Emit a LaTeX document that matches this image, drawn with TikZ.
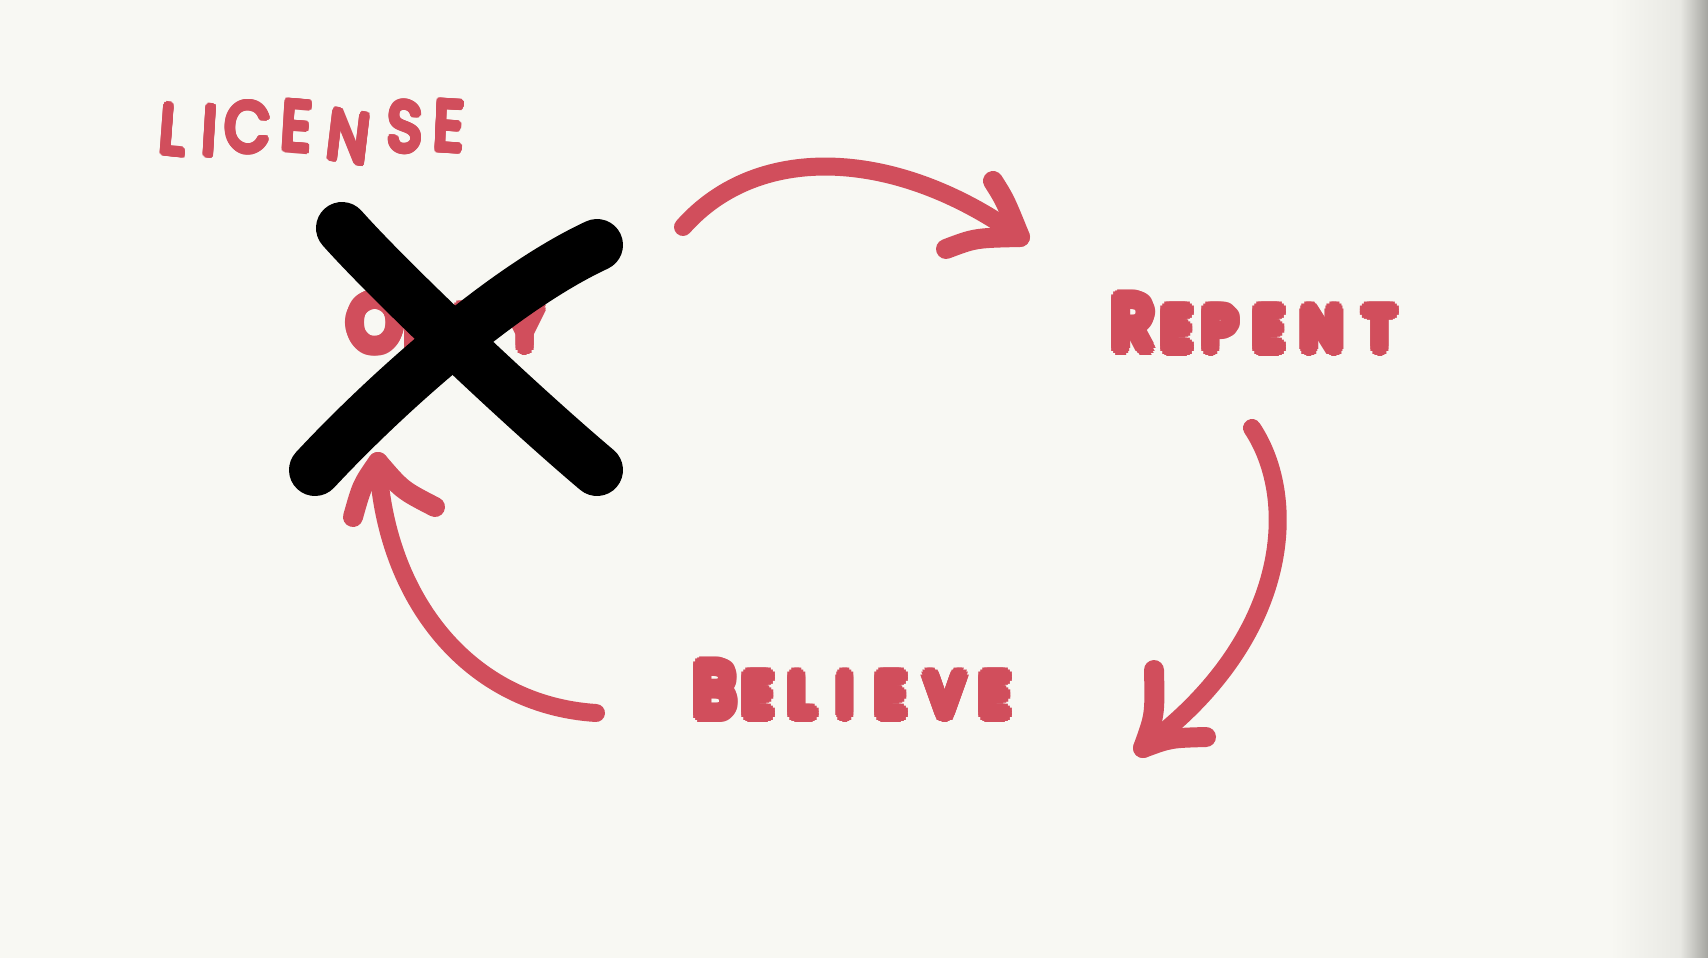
\documentclass[tikz,border=0pt]{standalone}
\usepackage{fontspec}
\setmainfont{Poppins}
\definecolor{bg}{RGB}{248,248,243}
\definecolor{ink}{RGB}{209,78,92}
\definecolor{shadeA}{RGB}{232,232,227}
\definecolor{shadeB}{RGB}{165,165,160}
% letter drawn with a round halo of copies, to make it heavy and rounded
\newcommand{\haloletter}[6]{% name, position, style, letter, radius, rotation
  \foreach \ang in {0,22.5,...,337.5}{%
    \node[#3, rotate=#6, shift={(\ang:#5)}] (#1-a\ang) at #2 {#4};}
  \foreach \ang in {0,45,...,315}{%
    \node[#3, rotate=#6, shift={(\ang:#5*0.55)}] (#1-b\ang) at #2 {#4};}
  \node[#3, rotate=#6] (#1) at #2 {#4};}
\begin{document}
\begin{tikzpicture}[x=1pt,y=-1pt,
  shaft/.style={draw=ink, line width=18pt, line cap=round},
  barb/.style={draw=ink, line width=20pt, line cap=round},
  crossstroke/.style={draw=black, line width=52pt, line cap=round},
  hand/.style={inner sep=0pt, text=ink, font=\fontsize{70}{74}\selectfont, xscale=0.85},
  bubble/.style={inner sep=0pt, text=ink, font=\fontsize{58}{62}\selectfont, xscale=0.95},
  bigbubble/.style={inner sep=0pt, text=ink, font=\fontsize{74}{78}\selectfont, xscale=0.9}]

\fill[bg] (0,0) rectangle (1708,958);
\useasboundingbox (0,0) rectangle (1708,958);
\shade[left color=bg, right color=shadeA] (1610,0) rectangle (1681,958);
\shade[left color=shadeA, right color=shadeB] (1680,0) rectangle (1708,958);

% LICENSE
\haloletter{l1}{(173,130)}{hand}{L}{3}{-5}
\haloletter{l2}{(210,131)}{hand}{I}{3}{-4}
\haloletter{l3}{(248,127)}{hand}{C}{3}{-3}
\haloletter{l4}{(297,126)}{hand}{E}{3}{-4}
\haloletter{l5}{(349,137)}{hand}{N}{3}{-8}
\haloletter{l6}{(405,127)}{hand}{S}{3}{-2}
\haloletter{l7}{(449,126)}{hand}{E}{3}{-3}

% Obey (hidden)
\haloletter{o1}{(375,323)}{bigbubble}{O}{7}{0}
\haloletter{o2}{(424,328)}{bubble}{B}{7}{0}
\haloletter{o3}{(469,328)}{bubble}{E}{7}{0}
\haloletter{o4}{(525,328)}{bubble}{Y}{7}{0}

% Repent
\haloletter{r1}{(1133,323)}{bigbubble}{R}{7}{0}
\haloletter{r2}{(1177,329)}{bubble}{E}{7}{0}
\haloletter{r3}{(1220,329)}{bubble}{P}{7}{0}
\haloletter{r4}{(1269,329)}{bubble}{E}{7}{0}
\haloletter{r5}{(1322,329)}{bubble}{N}{7}{0}
\haloletter{r6}{(1380,329)}{bubble}{T}{7}{0}

% Believe
\haloletter{b1}{(715,690)}{bigbubble}{B}{7}{0}
\haloletter{b2}{(758,695)}{bubble}{E}{7}{0}
\haloletter{b3}{(802,695)}{bubble}{L}{7}{0}
\haloletter{b4}{(845,695)}{bubble}{I}{7}{0}
\haloletter{b5}{(891,695)}{bubble}{E}{7}{0}
\haloletter{b6}{(945,695)}{bubble}{V}{7}{0}
\haloletter{b7}{(995,695)}{bubble}{E}{7}{0}

% black X
\coordinate (x1a) at (342,228);
\coordinate (x1b) at (597,470);
\coordinate (x2a) at (315,470);
\coordinate (x2b) at (597,245);
\draw[crossstroke] (x1a) .. controls (390,282) and (520,405) .. (x1b);
\draw[crossstroke] (x2a) .. controls (380,400) and (500,290) .. (x2b);

% arrow 1 (top)
\coordinate (a1s) at (683,227);
\coordinate (a1t) at (1020,237);
\coordinate (a1u) at (993,181);
\coordinate (a1l) at (946,249);
\draw[shaft] (a1s) .. controls (760,140) and (900,150) .. (a1t);
\draw[barb] (a1u) .. controls (1005,200) .. (a1t);
\draw[barb] (a1l) .. controls (975,238) .. (a1t);

% arrow 2 (right)
\coordinate (a2s) at (1252,428);
\coordinate (a2t) at (1143,748);
\coordinate (a2u) at (1154,670);
\coordinate (a2r) at (1206,737);
\draw[shaft] (a2s) .. controls (1300,500) and (1290,640) .. (a2t);
\draw[barb] (a2u) .. controls (1155,715) .. (a2t);
\draw[barb] (a2r) .. controls (1170,738) .. (a2t);

% arrow 3 (bottom left)
\coordinate (a3s) at (596,713);
\coordinate (a3t) at (378,462);
\coordinate (a3l) at (353,517);
\coordinate (a3r) at (435,507);
\draw[shaft] (a3s) .. controls (470,705) and (385,600) .. (a3t);
\draw[barb] (a3l) .. controls (362,485) .. (a3t);
\draw[barb] (a3r) .. controls (402,490) .. (a3t);
\end{tikzpicture}
\end{document}
